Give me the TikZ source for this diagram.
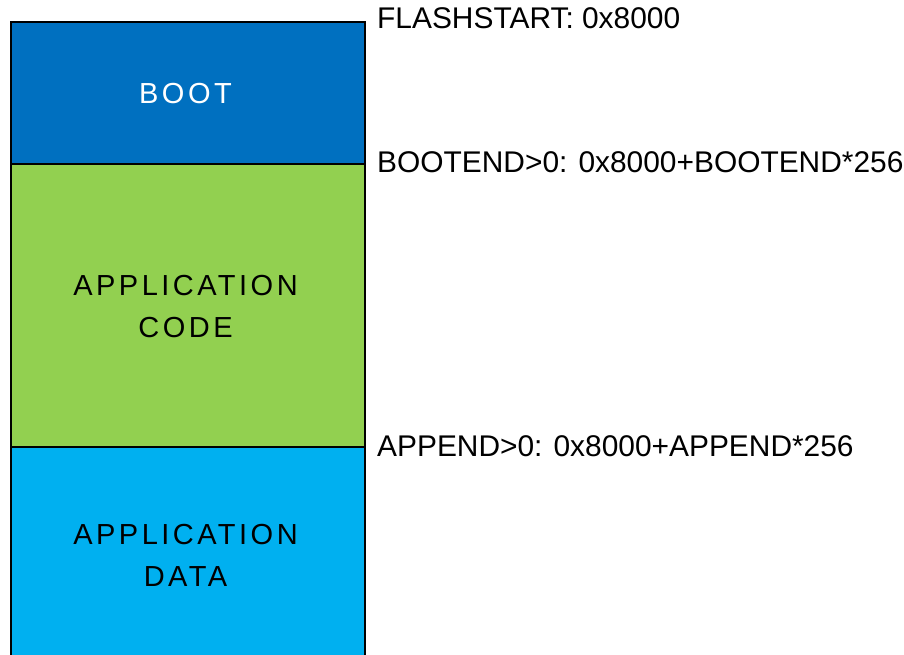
\documentclass[tikz,border=0pt]{standalone}
\usepackage{fontspec}
\setmainfont{Liberation Sans}
\newfontfamily\spacedfont[LetterSpace=12]{Liberation Sans}
\definecolor{bootblue}{HTML}{0070C0}
\definecolor{codegreen}{HTML}{92D050}
\definecolor{datablue}{HTML}{00B0F0}
\begin{document}
\begin{tikzpicture}[x=1pt,y=-1pt,
  region/.style={draw=black,line width=1.6pt},
  regiontext/.style={font=\spacedfont\fontsize{29}{41.5}\selectfont,align=center,inner sep=0pt},
  addrlabel/.style={font=\fontsize{29.9}{36}\selectfont,anchor=base west,inner sep=0pt}]
\useasboundingbox (0,0) rectangle (904,655);
\begin{scope}
\clip (0,0) rectangle (904,655);
\draw[region,fill=bootblue] (11,22) rectangle (365,164);
\draw[region,fill=codegreen] (11,164) rectangle (365,447);
\draw[region,fill=datablue] (11,447) rectangle (365,680);
\end{scope}
\node[regiontext,text=white] (boot) at (185.5,93.5) {BOOT};
\node[regiontext] (code) at (185.5,306.5) {APPLICATION\\CODE};
\node[regiontext] (data) at (185.5,555.5) {APPLICATION\\DATA};
\node[addrlabel] (flash) at (377,29) {FLASHSTART: 0x8000};
\node[addrlabel] (bootend) at (377,173) {BOOTEND>0: 0x8000+BOOTEND*256};
\node[addrlabel] (append) at (377,456.7) {APPEND>0: 0x8000+APPEND*256};
\end{tikzpicture}
\end{document}
